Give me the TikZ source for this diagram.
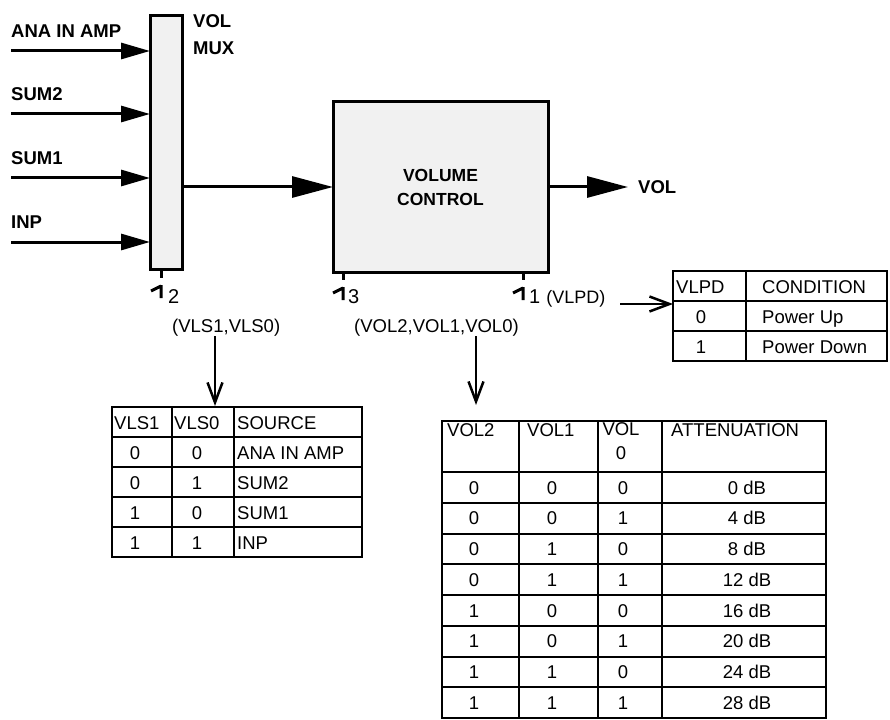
\documentclass[tikz,border=0pt]{standalone}
\usepackage{fontspec}
\setmainfont{Liberation Sans}
\usetikzlibrary{arrows.meta,positioning,calc}

\begin{document}
\begin{tikzpicture}[
	x=1pt, y=-1pt,
	font=\fontsize{18.5}{22}\selectfont,
	blockbox/.style={rectangle, draw, line width=3pt, fill=gray!11, inner sep=0pt, outer sep=0pt, align=center},
	siglabel/.style={inner sep=0pt, font=\fontsize{18.5}{27}\selectfont\bfseries},
	feed/.style={line width=3pt, -{Triangle[length=29pt,width=16pt]}},
	bigfeed/.style={line width=3pt, -{Triangle[length=41pt,width=21pt]}},
	ctrl/.style={line width=3pt},
	tapout/.style={line width=2.5pt, -{Straight Barb[length=20pt,width=15pt]}},
	tabframe/.style={rectangle, draw, line width=2.2pt, inner sep=0pt, outer sep=0pt},
	tabline/.style={line width=2pt},
	cell/.style={inner sep=0pt, anchor=base},
	celll/.style={inner sep=0pt, anchor=base west},
	buswidth/.style={inner sep=0pt, anchor=base west, font=\fontsize{20}{22}\selectfont},
	bustick/.pic={\draw[line width=3pt] (-10,6) -- (0,1) (0,0) -- (0,13);}
]
\useasboundingbox (0,0) rectangle (890,719);

% --- Mux and its inputs ---
\node[blockbox, minimum width=32pt, minimum height=253pt] (mux) at (166,142.5) {};
\node[siglabel, align=left, anchor=north west] (muxlab) at (193,14) {VOL\\MUX};

\foreach \lab/\y [count=\i] in {ANA IN AMP/51, SUM2/114, SUM1/178, INP/242} {
  \coordinate (in\i) at (11,\y);
  \draw[feed] (in\i) -- (in\i -| mux.west);
  \node[siglabel, anchor=base west] (inlab\i) at (11,\y-13) {\lab};
}

% --- Volume control ---
\node[blockbox, minimum width=215pt, minimum height=170pt, font=\fontsize{17.5}{24}\selectfont\bfseries] (vc) at (440.5,187) {VOLUME\\CONTROL};
\draw[bigfeed] (mux.east |- vc.west) -- (vc.west);

\node[siglabel, anchor=west] (vollab) at (638,187) {VOL};
\draw[bigfeed, shorten >=10pt] (vc.east) -- (vollab.west);

% --- Control buses ---
\draw[ctrl] ([xshift=-5pt]mux.south) -- ++(0,9) coordinate (vlsstub);
\draw[ctrl] ([xshift=-97.5pt]vc.south) -- ++(0,8) coordinate (volstub);
\draw[ctrl] ([xshift=82.5pt]vc.south) -- ++(0,8) coordinate (pdstub);
\pic at ($(vlsstub)+(0,7)$) {bustick};
\pic at ($(volstub)+(0,7)$) {bustick};
\pic at ($(pdstub)+(0,7)$) {bustick};
\node[buswidth] (vlsw) at (168,303) {2};
\node[buswidth] (volw) at (348,303) {3};
\node[buswidth] (pdw) at (529,303) {1\hspace{6pt}{\fontsize{18}{22}\selectfont(VLPD)}};

\node[celll] (vlsbus) at (172,332) {(VLS1,VLS0)};
\node[celll] (volbus) at (354,332) {(VOL2,VOL1,VOL0)};

\coordinate (vlstop) at (215,406);
\coordinate (voltop) at (476,405);
\coordinate (pdfrom) at (620,304);
\coordinate (pdtip) at (673,304);
\draw[tapout] (vlsbus.south -| vlstop) -- (vlstop);
\draw[tapout] (volbus.south -| voltop) -- (voltop);
\draw[tapout] (pdfrom) -- (pdtip);

% --- VLPD table ---
\node[tabframe, minimum width=214pt, minimum height=90pt, anchor=north west] (pdtab) at (673,271) {};
\draw[tabline] (746,271) -- (746,361);
\foreach \y in {301,331} \draw[tabline] (673,\y) -- (887,\y);
\node[celll] (pdh1) at (676,293) {VLPD};
\node[celll] (pdh2) at (762,293) {CONDITION};
\foreach \v/\cond [count=\i] in {0/Power Up, 1/Power Down} {
  \node[cell] (pdv\i) at (701,{293+30*\i}) {\v};
  \node[celll] (pdc\i) at (762,{293+30*\i}) {\cond};
}

% --- VLS table ---
\node[tabframe, minimum width=250pt, minimum height=150pt, anchor=north west] (vlstab) at (112,407) {};
\foreach \x in {172,234} \draw[tabline] (\x,407) -- (\x,557);
\foreach \y in {437,467,497,527} \draw[tabline] (112,\y) -- (362,\y);
\node[celll] (vlsh1) at (114,429) {VLS1};
\node[celll] (vlsh2) at (174,429) {VLS0};
\node[celll] (vlsh3) at (237,429) {SOURCE};
\foreach \a/\b/\src [count=\i] in {0/0/ANA IN AMP, 0/1/SUM2, 1/0/SUM1, 1/1/INP} {
  \node[cell] (vlsa\i) at (135,{429+30*\i}) {\a};
  \node[cell] (vlsb\i) at (197,{429+30*\i}) {\b};
  \node[celll] (vlss\i) at (237,{429+30*\i}) {\src};
}

% --- Attenuation table ---
\node[tabframe, minimum width=384pt, minimum height=297pt, anchor=north west] (voltab) at (442,421) {};
\foreach \x in {519,598,662} \draw[tabline] (\x,421) -- (\x,718);
\foreach \i in {0,...,7} \draw[tabline] (442,{472+30.75*\i}) -- (826,{472+30.75*\i});
\node[celll] (volh1) at (447,436) {VOL2};
\node[celll] (volh2) at (527,436) {VOL1};
\node[cell, align=center, anchor=north, font=\fontsize{18.5}{24}\selectfont] (volh3) at (621,422) {VOL\\0};
\node[celll] (volh4) at (671,436) {ATTENUATION};
\foreach \a/\b/\c/\att [count=\i] in {0/0/0/0, 0/0/1/4, 0/1/0/8, 0/1/1/12, 1/0/0/16, 1/0/1/20, 1/1/0/24, 1/1/1/28} {
  \node[cell] (vola\i) at (474,{472+30.75*(\i-1)+22}) {\a};
  \node[cell] (volb\i) at (552,{472+30.75*(\i-1)+22}) {\b};
  \node[cell] (volc\i) at (623,{472+30.75*(\i-1)+22}) {\c};
  \node[cell] (att\i) at (747,{472+30.75*(\i-1)+22}) {\att\ dB};
}

\end{tikzpicture}
\end{document}
